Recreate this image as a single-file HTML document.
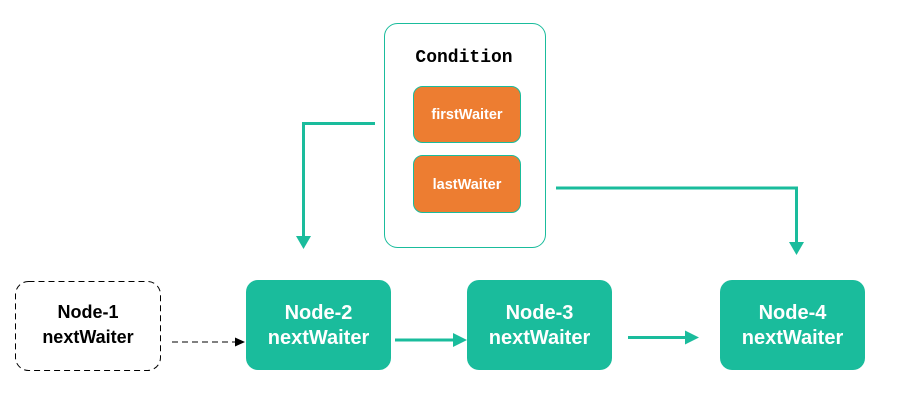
<!DOCTYPE html>
<html><head><meta charset="utf-8"><style>
html,body{margin:0;padding:0;background:#fff;width:913px;height:408px;overflow:hidden}
</style></head><body>
<svg width="913" height="408" viewBox="0 0 913 408" xmlns="http://www.w3.org/2000/svg" font-family="Liberation Sans, Arial, sans-serif">
<rect x="0" y="0" width="913" height="408" fill="#fff"/>
<rect x="384.5" y="23.5" width="161" height="224" rx="13" fill="#fff" stroke="#1ABC9C" stroke-width="1"/>
<text x="464" y="62" text-anchor="middle" font-family="Liberation Mono, monospace" font-weight="bold" font-size="18" fill="#000">Condition</text>
<rect x="413.5" y="86.5" width="107" height="56" rx="9" fill="#ED7D31" stroke="#1ABC9C" stroke-width="1"/>
<text x="467" y="119" text-anchor="middle" font-weight="bold" font-size="14.5" fill="#fff">firstWaiter</text>
<rect x="413.5" y="155.5" width="107" height="57" rx="9" fill="#ED7D31" stroke="#1ABC9C" stroke-width="1"/>
<text x="467" y="189" text-anchor="middle" font-weight="bold" font-size="14.5" fill="#fff">lastWaiter</text>
<g fill="none" stroke="#1ABC9C" stroke-width="3">
<polyline points="375,123.5 303.5,123.5 303.5,238"/>
<polyline points="556,188 796.5,188 796.5,244"/>
<line x1="395" y1="340" x2="456" y2="340"/>
<line x1="628" y1="337.5" x2="688" y2="337.5"/>
</g>
<g fill="#1ABC9C">
<polygon points="296,236 311,236 303.5,249"/>
<polygon points="789,242 804,242 796.5,255"/>
<polygon points="453,333 467,340 453,347"/>
<polygon points="685,330.5 699,337.5 685,344.5"/>
</g>
<rect x="15.5" y="281.5" width="145" height="89" rx="13" fill="#fff" stroke="#000" stroke-width="1" stroke-dasharray="6,4"/>
<text x="88" y="318" text-anchor="middle" font-weight="bold" font-size="18" fill="#000">Node-1</text>
<text x="88" y="343" text-anchor="middle" font-weight="bold" font-size="18" fill="#000">nextWaiter</text>
<line x1="172" y1="342" x2="236" y2="342" stroke="#000" stroke-width="1" stroke-dasharray="6,4"/>
<polygon points="235,337.5 245,342 235,346.5" fill="#000"/>
<rect x="246" y="280" width="145" height="90" rx="12" fill="#1ABC9C"/>
<text x="318.5" y="319" text-anchor="middle" font-weight="bold" font-size="20" fill="#fff">Node-2</text>
<text x="318.5" y="344" text-anchor="middle" font-weight="bold" font-size="20" fill="#fff">nextWaiter</text>
<rect x="467" y="280" width="145" height="90" rx="12" fill="#1ABC9C"/>
<text x="539.5" y="319" text-anchor="middle" font-weight="bold" font-size="20" fill="#fff">Node-3</text>
<text x="539.5" y="344" text-anchor="middle" font-weight="bold" font-size="20" fill="#fff">nextWaiter</text>
<rect x="720" y="280" width="145" height="90" rx="12" fill="#1ABC9C"/>
<text x="792.5" y="319" text-anchor="middle" font-weight="bold" font-size="20" fill="#fff">Node-4</text>
<text x="792.5" y="344" text-anchor="middle" font-weight="bold" font-size="20" fill="#fff">nextWaiter</text>
</svg>
</body></html>
